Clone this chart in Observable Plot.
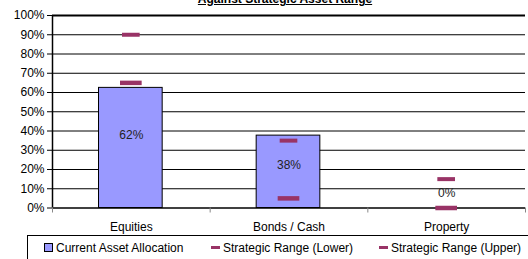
<!DOCTYPE html>
<html>
<head>
<meta charset="utf-8">
<script src="https://cdn.jsdelivr.net/npm/d3@7"></script>
<script src="https://cdn.jsdelivr.net/npm/@observablehq/plot@0.6"></script>
<style>
  html, body { margin: 0; padding: 0; background: #fff; }
  body { width: 528px; height: 259px; overflow: hidden; position: relative; font-family: "Liberation Sans", Arial, sans-serif; }
  #title { position: absolute; left: 0; width: 570px; top: -7px; text-align: center; font-size: 12px; line-height: 12px; font-weight: bold; text-decoration: underline; color: #000; }
  #legend { position: absolute; left: 27px; top: 235px; width: 520px; height: 30px; border: 1px solid #000; box-sizing: border-box; font-size: 12px; color: #000; }
  .item { position: absolute; top: 5px; height: 14px; line-height: 14px; white-space: nowrap; }
  .sw { display: inline-block; vertical-align: middle; }
  #chart { position: absolute; left: 0; top: 0; }
</style>
</head>
<body>
<div id="chart"></div>
<div id="title">Against Strategic Asset Range</div>
<div id="legend"></div>
<script>
const title = "Against Strategic Asset Range";
const categories = ["Equities", "Bonds / Cash", "Property"];
const current = [0.624, 0.376, 0.0];
const lower = [0.65, 0.05, 0.0];
const upper = [0.90, 0.35, 0.15];
const labelY = [0.38, 0.22, 0.075];
const yTicks = [0, 0.1, 0.2, 0.3, 0.4, 0.5, 0.6, 0.7, 0.8, 0.9, 1.0];
const seriesNames = ["Current Asset Allocation", "Strategic Range (Lower)", "Strategic Range (Upper)"];

const rows = categories.map((c, i) => ({i, category: c, current: current[i], lower: lower[i], upper: upper[i], labelY: labelY[i]}));
const pct = d3.format(".0%");
const plum = "#993366";

const chart = Plot.plot({
  width: 528,
  height: 259,
  marginLeft: 52,
  marginRight: 3,
  marginTop: 15,
  marginBottom: 51.5,
  style: {fontFamily: "'Liberation Sans', Arial, sans-serif", fontSize: "12px", color: "#000", background: "transparent"},
  x: {type: "linear", domain: [0, categories.length], axis: null},
  y: {domain: [0, 1], axis: null},
  marks: [
    Plot.ruleY(yTicks.slice(1, -1), {stroke: "#000", strokeWidth: 1}),
    Plot.ruleY([1], {stroke: "#000", strokeWidth: 2}),
    Plot.rectY(rows, {x1: "i", x2: d => d.i + 1, y: "current", fill: "#9999FF", stroke: "#000", strokeWidth: 1, insetLeft: 46.5, insetRight: 47.5}),
    Plot.ruleY([0], {stroke: "#000", strokeWidth: 1.5}),
    Plot.ruleX([0], {stroke: "#000", strokeWidth: 1.5}),
    Plot.axisY({ticks: yTicks, tickFormat: pct, tickSize: 5, tickPadding: 3, fontSize: 12, label: null}),
    Plot.axisX({ticks: d3.range(categories.length + 1), tickFormat: () => "", tickSize: 5, stroke: "#888", label: null}),
    Plot.axisX({ticks: categories.map((c, i) => i + 0.5), tickFormat: d => categories[Math.floor(d)], tickSize: 0, tickPadding: 14, fontSize: 12, label: null}),
    Plot.ruleY(rows, {x1: "i", x2: d => d.i + 1, y: "lower", stroke: plum, strokeWidth: 4.5, insetLeft: 68, insetRight: 68}),
    Plot.ruleY(rows, {x1: "i", x2: d => d.i + 1, y: "upper", stroke: plum, strokeWidth: 4, insetLeft: 70, insetRight: 70}),
    Plot.text(rows, {x: d => d.i + 0.5, y: "labelY", text: d => pct(d.current), fontSize: 12, fill: "#222"})
  ]
});
document.getElementById("chart").appendChild(chart);

// legend
const legend = document.getElementById("legend");
const items = [
  {name: seriesNames[0], left: 16, sw: '<span class="sw" style="width:7px;height:7px;background:#9999FF;border:1px solid #000;margin-right:3px;position:relative;top:-1px"></span>'},
  {name: seriesNames[1], left: 183, sw: '<span class="sw" style="width:9px;height:3px;background:' + plum + ';margin-right:3px;position:relative;top:-1px"></span>'},
  {name: seriesNames[2], left: 351, sw: '<span class="sw" style="width:9px;height:3px;background:' + plum + ';margin-right:3px;position:relative;top:-1px"></span>'}
];
for (const it of items) {
  const d = document.createElement("div");
  d.className = "item";
  d.style.left = it.left + "px";
  d.innerHTML = it.sw + it.name;
  legend.appendChild(d);
}
</script>
</body>
</html>
